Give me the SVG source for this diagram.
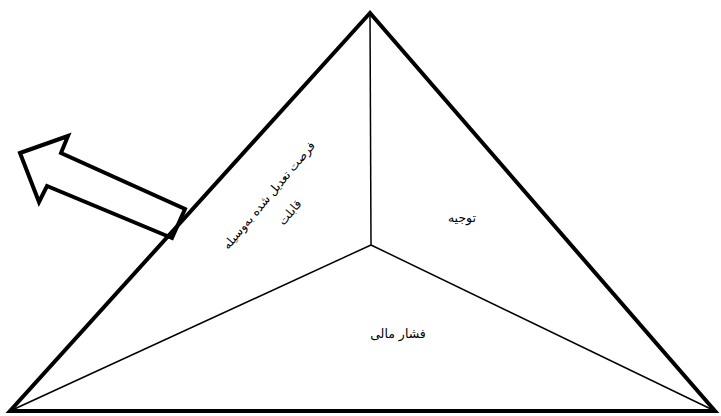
<svg xmlns="http://www.w3.org/2000/svg" width="721" height="416" viewBox="0 0 721 416">
<style>
.outer{fill:none;stroke:#000;stroke-width:4;stroke-linejoin:miter}
.inner{fill:none;stroke:#000;stroke-width:1.5}
.arrow{fill:#fff;stroke:#000;stroke-width:4;stroke-linejoin:miter}
.lbl{font-family:"DejaVu Sans","Liberation Serif",serif;font-size:12.5px;fill:#000;text-anchor:middle;direction:rtl}
</style>
<rect width="721" height="416" fill="#fff"/>
<g id="arrow">
<polygon class="arrow" points="20,153 68,136 61,153 185,209 172,238 47,186 39,202"/>
</g>
<g id="pyramid">
<polygon class="outer" points="370,13 10,411 715,411"/>
</g>
<g id="connectors">
<line class="inner" x1="371" y1="245" x2="370" y2="13"/>
<line class="inner" x1="371" y1="245" x2="10" y2="411"/>
<line class="inner" x1="371" y1="245" x2="715" y2="411"/>
</g>
<g id="face-left">
<text class="lbl" style="font-size:12px" transform="translate(272,198) rotate(-50)">فرصت تعدیل شده به‌وسیله</text>
<text class="lbl" style="font-size:12px" transform="translate(293,215) rotate(-50)">قابلت</text>
</g>
<g id="face-right">
<text class="lbl" x="462" y="222">توجیه</text>
</g>
<g id="face-bottom">
<text class="lbl" x="398" y="338">فشار مالی</text>
</g>
</svg>
